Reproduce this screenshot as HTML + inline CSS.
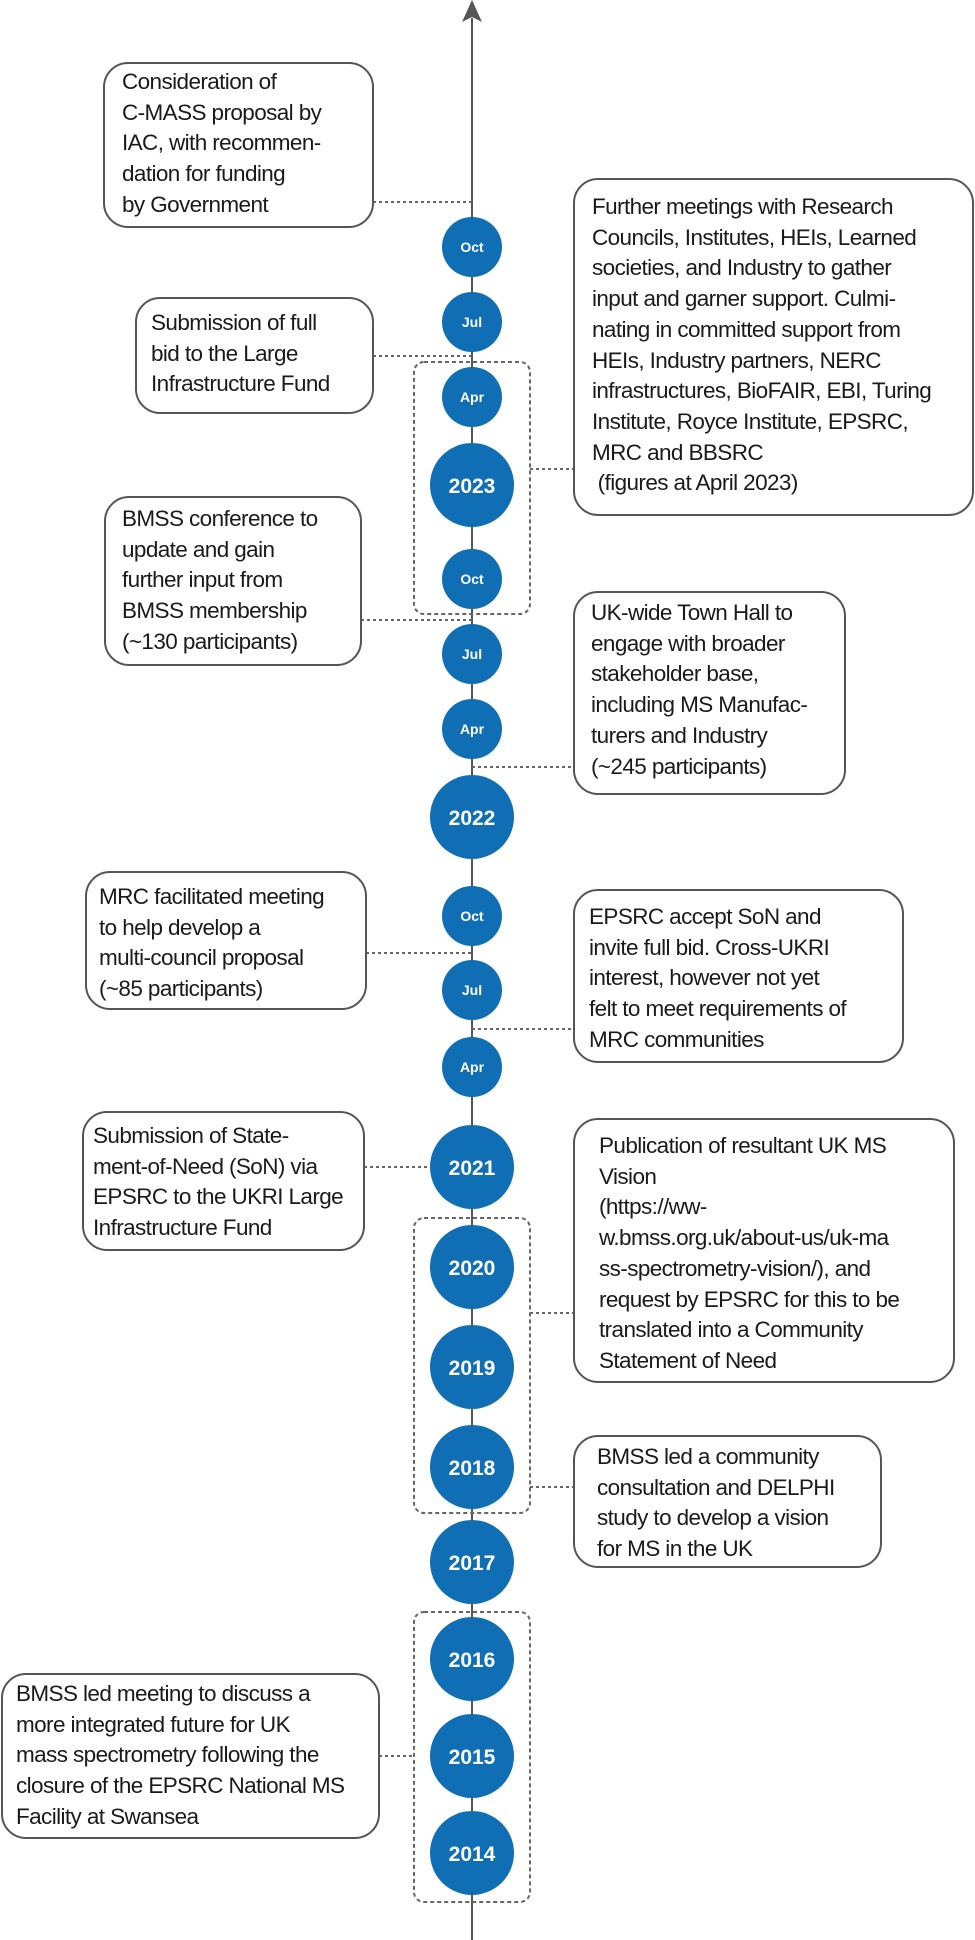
<!DOCTYPE html>
<html><head><meta charset="utf-8">
<style>
html,body{margin:0;padding:0;background:#fff;}
#w{position:relative;width:975px;height:1940px;overflow:hidden;}
svg{position:absolute;left:0;top:0;}
.t{position:absolute;font-family:"Liberation Sans",sans-serif;font-size:22.5px;line-height:30.7px;color:#1a1a1a;white-space:pre;letter-spacing:-0.6px;}
</style></head><body><div id="w">
<svg width="975" height="1940" viewBox="0 0 975 1940" xmlns="http://www.w3.org/2000/svg">
<g stroke="#555" stroke-width="2" fill="none">
<line x1="472" y1="18" x2="472" y2="1940"/>
</g>
<polygon points="472,0 462,22 472,17 482,22" fill="#555"/>
<g stroke="#666" stroke-width="2" fill="none" stroke-dasharray="4,3">
<rect x="414" y="362" width="116" height="252" rx="10"/>
<rect x="414" y="1218" width="116" height="295" rx="10"/>
<rect x="414" y="1612" width="116" height="290" rx="10"/>
</g>
<g stroke="#666" stroke-width="2" fill="none" stroke-dasharray="3,3">
<line x1="373" y1="202" x2="472" y2="202"/>
<line x1="373" y1="356" x2="472" y2="356"/>
<line x1="530" y1="469" x2="574" y2="469"/>
<line x1="361" y1="620" x2="472" y2="620"/>
<line x1="472" y1="767" x2="574" y2="767"/>
<line x1="366" y1="953" x2="472" y2="953"/>
<line x1="472" y1="1029" x2="574" y2="1029"/>
<line x1="364" y1="1167" x2="430" y2="1167"/>
<line x1="530" y1="1313" x2="574" y2="1313"/>
<line x1="530" y1="1487" x2="574" y2="1487"/>
<line x1="379" y1="1756" x2="414" y2="1756"/>
</g>
<g stroke="#555" stroke-width="2" fill="#fff">
<rect x="104" y="63" width="269" height="164" rx="24"/>
<rect x="136" y="298" width="237" height="115" rx="24"/>
<rect x="574" y="179" width="399" height="336" rx="24"/>
<rect x="105" y="497" width="256" height="168" rx="24"/>
<rect x="574" y="592" width="271" height="202" rx="24"/>
<rect x="86" y="872" width="280" height="137" rx="24"/>
<rect x="574" y="890" width="329" height="172" rx="24"/>
<rect x="83" y="1112" width="281" height="138" rx="24"/>
<rect x="574" y="1119" width="380" height="263" rx="24"/>
<rect x="574" y="1436" width="307" height="131" rx="24"/>
<rect x="2" y="1674" width="377" height="164" rx="24"/>
</g>
<g fill="#106eb5">
<circle cx="472" cy="247" r="30"/>
<circle cx="472" cy="322" r="30"/>
<circle cx="472" cy="397" r="30"/>
<circle cx="472" cy="485" r="42"/>
<circle cx="472" cy="579" r="30"/>
<circle cx="472" cy="654" r="30"/>
<circle cx="472" cy="729" r="30"/>
<circle cx="472" cy="817" r="42"/>
<circle cx="472" cy="916" r="30"/>
<circle cx="472" cy="990" r="30"/>
<circle cx="472" cy="1067" r="30"/>
<circle cx="472" cy="1167" r="42"/>
<circle cx="472" cy="1267" r="42"/>
<circle cx="472" cy="1367" r="42"/>
<circle cx="472" cy="1467" r="42"/>
<circle cx="472" cy="1562" r="42"/>
<circle cx="472" cy="1659" r="42"/>
<circle cx="472" cy="1756" r="42"/>
<circle cx="472" cy="1853" r="42"/>
</g>
<g fill="#fff" font-family="Liberation Sans, sans-serif" font-weight="bold" text-anchor="middle">
<g font-size="14">
<text x="472" y="252">Oct</text>
<text x="472" y="327">Jul</text>
<text x="472" y="402">Apr</text>
<text x="472" y="584">Oct</text>
<text x="472" y="659">Jul</text>
<text x="472" y="734">Apr</text>
<text x="472" y="921">Oct</text>
<text x="472" y="995">Jul</text>
<text x="472" y="1072">Apr</text>
</g>
<g font-size="21">
<text x="472" y="493">2023</text>
<text x="472" y="825">2022</text>
<text x="472" y="1175">2021</text>
<text x="472" y="1275">2020</text>
<text x="472" y="1375">2019</text>
<text x="472" y="1475">2018</text>
<text x="472" y="1570">2017</text>
<text x="472" y="1667">2016</text>
<text x="472" y="1764">2015</text>
<text x="472" y="1861">2014</text>
</g>
</g>
</svg>
<div class="t" style="left:122px;top:67px">Consideration of
C-MASS proposal by
IAC, with recommen-
dation for funding
by Government</div>
<div class="t" style="left:151px;top:308px">Submission of full
bid to the Large
Infrastructure Fund</div>
<div class="t" style="left:592px;top:192px">Further meetings with Research
Councils, Institutes, HEIs, Learned
societies, and Industry to gather
input and garner support. Culmi-
nating in committed support from
HEIs, Industry partners, NERC
infrastructures, BioFAIR, EBI, Turing
Institute, Royce Institute, EPSRC,
MRC and BBSRC
 (figures at April 2023)</div>
<div class="t" style="left:122px;top:504px">BMSS conference to
update and gain
further input from
BMSS membership
(~130 participants)</div>
<div class="t" style="left:591px;top:598px">UK-wide Town Hall to
engage with broader
stakeholder base,
including MS Manufac-
turers and Industry
(~245 participants)</div>
<div class="t" style="left:99px;top:882px">MRC facilitated meeting
to help develop a
multi-council proposal
(~85 participants)</div>
<div class="t" style="left:589px;top:902px">EPSRC accept SoN and
invite full bid. Cross-UKRI
interest, however not yet
felt to meet requirements of
MRC communities</div>
<div class="t" style="left:93px;top:1121px">Submission of State-
ment-of-Need (SoN) via
EPSRC to the UKRI Large
Infrastructure Fund</div>
<div class="t" style="left:599px;top:1131px">Publication of resultant UK MS
Vision
(https://ww-
w.bmss.org.uk/about-us/uk-ma
ss-spectrometry-vision/), and
request by EPSRC for this to be
translated into a Community
Statement of Need</div>
<div class="t" style="left:597px;top:1442px">BMSS led a community
consultation and DELPHI
study to develop a vision
for MS in the UK</div>
<div class="t" style="left:16px;top:1679px">BMSS led meeting to discuss a
more integrated future for UK
mass spectrometry following the
closure of the EPSRC National MS
Facility at Swansea</div>
</div></body></html>
